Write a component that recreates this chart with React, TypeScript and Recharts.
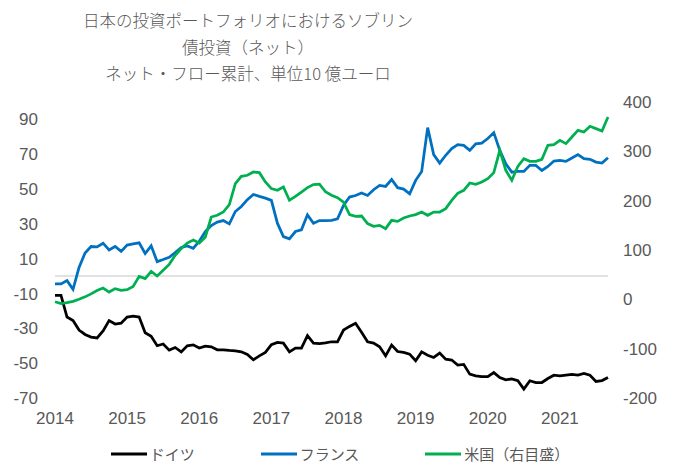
import React from 'react';
import { LineChart, Line, XAxis, YAxis, ReferenceLine, Legend } from 'recharts';

const titleLines = [
  '日本の投資ポートフォリオにおけるソブリン',
  '債投資（ネット）',
  'ネット・フロー累計、単位10 億ユーロ',
];

const yearLabels = ['2014', '2015', '2016', '2017', '2018', '2019', '2020', '2021'];

const leftTicks = [-70, -50, -30, -10, 10, 30, 50, 70, 90];
const rightTicks = [-200, -100, 0, 100, 200, 300, 400];

// Monthly values, Jan 2014 .. Sep 2021
const germany = [
  -11, -11, -23.5, -25.5, -31, -33.5, -35, -35.5, -31.5, -25.5, -27.5, -27,
  -23.5, -23, -23.5, -32.5, -34.5, -40, -39, -42.5, -41, -43.5, -40, -39.5,
  -41.3, -40.2, -40.6, -42.3, -42.3, -42.7, -43, -43.5, -45, -48, -45.8, -43.8,
  -39.4, -38.1, -38.5, -43.5, -41.3, -41.3, -34.2, -38.5, -38.7, -38.3, -37.7, -37.7,
  -31, -28.9, -27.1, -32.3, -37.7, -38.5, -40.6, -45.8, -39.6, -43.3, -43.8, -44.8,
  -48.6, -43.5, -45.4, -46.7, -44.2, -47.7, -48.2, -51.1, -50.7, -56.3, -57.3, -57.7,
  -57.7, -55.4, -58.2, -59.6, -59, -60.1, -64.9, -60.1, -61.1, -61.1, -58.8, -56.9,
  -57.3, -56.9, -56.5, -56.9, -55.9, -56.9, -60.5, -60, -58.2,
];

const france = [
  -4.5, -4.5, -2.6, -7.6, 5, 13.3, 17, 16.8, 18.9, 15, 17, 14.2,
  17.8, 18.5, 19.1, 13, 17.4, 8.3, 9.5, 10.8, 13.5, 16.5, 17.3, 16,
  20, 25.5, 29, 31, 31.9, 30, 37.1, 40, 43.9, 46.9, 45.8, 44.8,
  43.5, 30.4, 22.7, 21.4, 25.6, 26.6, 35.2, 30.4, 31.9, 31.9, 32, 32.9,
  40.6, 45.4, 46.3, 47.7, 46.3, 49.6, 52.1, 51.5, 55.5, 50.8, 50, 47.3,
  55, 60.1, 85.3, 69.8, 64.9, 69.4, 73.2, 75.5, 75.1, 72.2, 76, 76.4,
  79, 82.4, 72.2, 64.5, 59.7, 60.1, 60.1, 63.6, 63.6, 60.7, 63, 66.1,
  66.5, 65.9, 67.8, 69.8, 67.5, 67.1, 65.5, 64.9, 68,
];

const us = [
  -5, -8.5, -6.5, -4, 0, 5, 11, 18, 22.9, 14.8, 21.7, 18.2,
  19.7, 26, 46.6, 42, 56.8, 47.2, 58.8, 70.9, 89.2, 103, 114, 120,
  114, 126, 166.8, 170.3, 177, 192, 234.5, 249.3, 251.4, 258.1, 256.8, 237.8,
  224.4, 221, 227.7, 200.7, 208.8, 217.5, 226.4, 232.5, 233.5, 218, 211, 206,
  197.2, 171.7, 168.3, 168.9, 153.5, 148, 150, 143.3, 160.1, 158.1, 164.8, 168.9,
  171.7, 177, 170.3, 177, 177, 183.9, 200.7, 215, 221, 235.8, 233.1, 237.8,
  244.7, 256.8, 302, 261.5, 241.2, 269.6, 285.2, 279.8, 279.8, 283.8, 312.2, 313.6,
  322.3, 315.6, 329, 342.6, 339.1, 350.7, 346, 341.2, 369.6,
];

const series = [
  { key: 'germany', name: 'ドイツ', color: '#000000', axis: 'left' },
  { key: 'france', name: 'フランス', color: '#0070C0', axis: 'left' },
  { key: 'us', name: '米国（右目盛）', color: '#00B050', axis: 'right' },
];

const data = germany.map((g, i) => ({ t: i, germany: g, france: france[i], us: us[i] }));
const yearTicks = yearLabels.map((_, k) => k * 12);

const tickStyle = { fill: '#595959', fontSize: 17, fontFamily: '"Liberation Sans", Arial, sans-serif' };

const renderLegend = () => (
  <div
    style={{
      display: 'flex',
      justifyContent: 'center',
      alignItems: 'center',
      gap: 66,
      paddingLeft: 7,
      height: 18,
      fontFamily: '"Noto Sans CJK JP", sans-serif',
      fontSize: 15,
      color: '#595959',
    }}
  >
    {series.map((s) => (
      <div key={s.key} style={{ display: 'flex', alignItems: 'center' }}>
        <svg width={36} height={4} style={{ display: 'block' }}>
          <line x1={0} y1={2} x2={36} y2={2} stroke={s.color} strokeWidth={3} />
        </svg>
        <span style={{ marginLeft: 3, lineHeight: '18px', whiteSpace: 'nowrap' }}>{s.name}</span>
      </div>
    ))}
  </div>
);

export default function App() {
  return (
    <div style={{ position: 'absolute', left: 0, top: 0, width: 673, height: 463, background: '#ffffff' }}>
      <div
        style={{
          position: 'absolute',
          left: 48,
          top: 7,
          width: 400,
          textAlign: 'center',
          fontFamily: '"Noto Sans CJK JP", sans-serif',
          fontSize: 16.5,
          fontWeight: 300,
          lineHeight: '26.5px',
          color: '#595959',
        }}
      >
        {titleLines.map((l) => (
          <div key={l}>{l}</div>
        ))}
      </div>
      <LineChart width={673} height={463} data={data} margin={{ top: 102, right: 0, bottom: 0, left: 0 }}>
        <XAxis
          dataKey="t"
          type="number"
          domain={[0, 92]}
          ticks={yearTicks}
          interval={0}
          tickFormatter={(v: number) => yearLabels[Math.round(v / 12)]}
          axisLine={false}
          tickLine={false}
          tickMargin={8}
          height={47}
          tick={tickStyle}
        />
        <YAxis
          yAxisId="left"
          domain={[-70, 100]}
          ticks={leftTicks}
          interval={0}
          width={55}
          axisLine={false}
          tickLine={false}
          tickMargin={11}
          tick={tickStyle}
        />
        <YAxis
          yAxisId="right"
          orientation="right"
          domain={[-200, 400]}
          ticks={rightTicks}
          interval={0}
          width={65}
          axisLine={false}
          tickLine={false}
          tickMargin={9}
          tick={tickStyle}
        />
        <ReferenceLine yAxisId="left" y={0} stroke="#d9d9d9" strokeWidth={1.5} />
        {series.map((s) => (
          <Line
            key={s.key}
            yAxisId={s.axis}
            type="linear"
            dataKey={s.key}
            name={s.name}
            stroke={s.color}
            strokeWidth={2.75}
            dot={false}
            isAnimationActive={false}
          />
        ))}
        <Legend verticalAlign="bottom" height={18} content={renderLegend} />
      </LineChart>
    </div>
  );
}
